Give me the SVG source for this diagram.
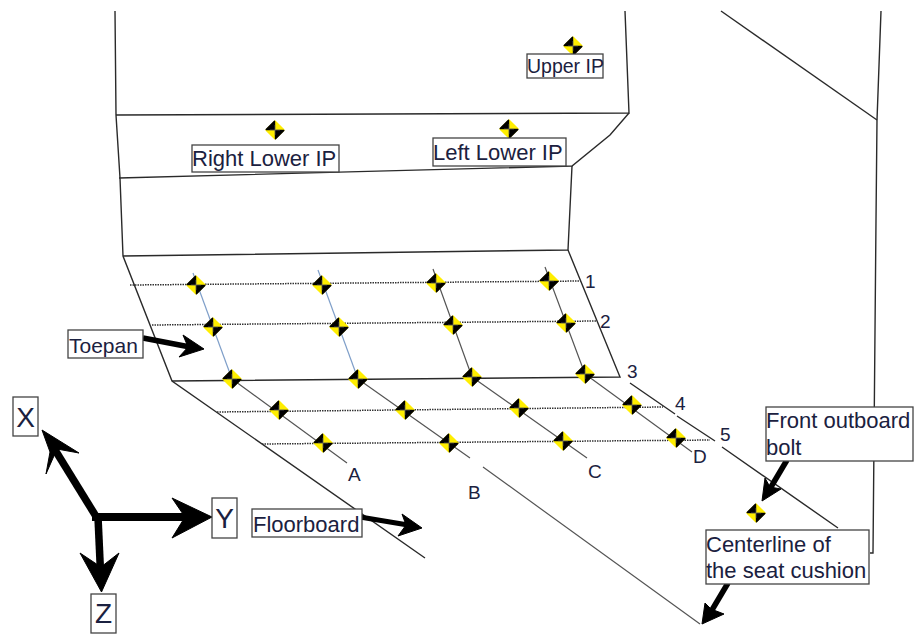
<svg xmlns="http://www.w3.org/2000/svg" width="915" height="635" viewBox="0 0 915 635">
<style>
.e{fill:none;stroke:#2a2a2a;stroke-width:1.4}
.r{fill:none;stroke:#333;stroke-width:1.5;stroke-dasharray:1.5 1}
.b{fill:none;stroke:#7f9fc9;stroke-width:1.2}
.g{fill:none;stroke:#555;stroke-width:1.2}
.box{fill:#fff;stroke:#444;stroke-width:1.3}
text{font-family:"Liberation Sans",Arial,sans-serif;fill:#1b2140}
.l{font-size:22px}
.n{font-size:19px}
.a{font-size:28px;text-anchor:middle}
.ar{fill:#000;stroke:#000;stroke-width:1;stroke-linejoin:miter}
.sh{fill:none;stroke:#000}
</style>
<defs>
<g id="m">
<path d="M0,-8.600L8.600,0L0,8.600L-8.600,0Z" fill="#ffee00" stroke="#ffee00" stroke-width="2" stroke-linejoin="round"/>
<path d="M-0.500,-8.800L-0.500,-0.500L-8.800,-0.500ZM0.500,8.800L0.500,0.500L8.800,0.500Z" fill="#000" stroke="#000" stroke-width="1.4" stroke-linejoin="round"/>
<path d="M-5,0H5M0,-5V5" stroke="#8a8a8a" stroke-width="0.5"/>
</g>
</defs>
<g id="connectors">
<path class="e" d="M115,11L116,115L120,178L123,256L172,381L425,558"/>
<path class="e" d="M625,11L629,113L116,115"/>
<path class="e" d="M629,113L610,135L572,166L119,178"/>
<path class="e" d="M572,166L568,250L123,256"/>
<path class="e" d="M568,250L620,377L172,381"/>
<path class="e" d="M630,383L675,414M677,416L715,441M722,447L838,528"/>
<path class="e" d="M721,11L877,120"/>
<path class="e" d="M881,11L877,120L876,220L873,553L870,553"/>
<path class="r" d="M130,285L581,281"/>
<path class="r" d="M152,325L597,321"/>
<path class="r" d="M217,412L663,407"/>
<path class="r" d="M262,444L710,440"/>
<path class="b" d="M193,273L232,379"/>
<path class="b" d="M318,270L358,379"/>
<path class="g" d="M433,269L472,377M545,267L585,374"/>
<path class="g" d="M232,379L347,463M358,379L470,458M483,467L700,624M472,377L587,458M585,374L692,452"/>
<g id="toepan-arrow"><path class="sh" stroke-width="5.500" d="M143,338L190,347"/><path class="ar" d="M204,349L183,335L188,347L179,357Z"/></g>
<g id="floorboard-arrow"><path class="sh" stroke-width="5" d="M360,517L408,525"/><path class="ar" d="M422,528L402,514L406,525L398,536Z"/></g>
<g id="bolt-arrow"><path class="sh" stroke-width="5.500" d="M787,460L768,492"/><path class="ar" d="M762,501L765,478L770,487L781,489Z"/></g>
<g id="cushion-arrow"><path class="sh" stroke-width="5.500" d="M728,583L709,615"/><path class="ar" d="M702,624L705,603L711,609L724,614Z"/></g>
<g id="axis-x"><path class="sh" stroke-width="7.500" d="M97,518L52,445"/><path class="ar" d="M42,430L79,453L57,449L46,474L50,452Z"/></g>
<g id="axis-y"><path class="sh" stroke-width="8" d="M92,517H190"/><path class="ar" d="M212,517L172,498L185,517L172,538Z"/></g>
<g id="axis-z"><path class="sh" stroke-width="7.500" d="M98,517L100.500,572"/><path class="ar" d="M101.500,592L80,553L101,567L119,553Z"/></g>
</g>
<g id="markers">
<use href="#m" x="573" y="46"/><use href="#m" x="275" y="130"/><use href="#m" x="509" y="129"/>
<use href="#m" x="196" y="285"/><use href="#m" x="322" y="285"/><use href="#m" x="436" y="283"/><use href="#m" x="549" y="281"/>
<use href="#m" x="213" y="327"/><use href="#m" x="339" y="327"/><use href="#m" x="453" y="325"/><use href="#m" x="566" y="323"/>
<use href="#m" x="232" y="379"/><use href="#m" x="358" y="379"/><use href="#m" x="472" y="377"/><use href="#m" x="585" y="374"/>
<use href="#m" x="279" y="410"/><use href="#m" x="405" y="410"/><use href="#m" x="519" y="408"/><use href="#m" x="632" y="405"/>
<use href="#m" x="323" y="443"/><use href="#m" x="449" y="443"/><use href="#m" x="563" y="441"/><use href="#m" x="676" y="438"/>
<use href="#m" x="756" y="513"/>
</g>
<g id="upper-ip"><rect class="box" x="527" y="54" width="76" height="24"/><text x="527" y="73" style="font-size:19.500px">Upper IP</text></g>
<g id="right-lower-ip"><rect class="box" x="192" y="145" width="147" height="27"/><text class="l" x="192" y="166">Right Lower IP</text></g>
<g id="left-lower-ip"><rect class="box" x="433" y="138" width="133" height="28"/><text class="l" x="433" y="160">Left Lower IP</text></g>
<g id="toepan"><rect class="box" x="68" y="330" width="75" height="28"/><text x="69" y="353" style="font-size:21px">Toepan</text></g>
<g id="floorboard"><rect class="box" x="252" y="509" width="110" height="28"/><text class="l" x="253" y="532">Floorboard</text></g>
<g id="front-outboard-bolt"><rect class="box" x="766" y="407" width="147" height="54"/><text class="l" x="766" y="428">Front outboard</text><text class="l" x="766" y="455">bolt</text></g>
<g id="centerline"><rect class="box" x="706" y="530" width="163" height="54"/><text class="l" x="706" y="552">Centerline of</text><text class="l" x="706" y="578">the seat cushion</text></g>
<g id="x-label"><rect class="box" x="13" y="397" width="25" height="39"/><text class="a" x="25.500" y="427">X</text></g>
<g id="y-label"><rect class="box" x="212" y="498" width="25" height="40"/><text class="a" x="224.500" y="528">Y</text></g>
<g id="z-label"><rect class="box" x="91" y="594" width="25" height="39"/><text class="a" x="103.500" y="623">Z</text></g>
<g id="grid-labels">
<text class="n" x="585" y="288">1</text><text class="n" x="600" y="328">2</text><text class="n" x="627" y="378">3</text><text class="n" x="675" y="410">4</text><text class="n" x="720" y="441">5</text>
<text class="n" x="348" y="481">A</text><text class="n" x="468" y="499">B</text><text class="n" x="588" y="478">C</text><text class="n" x="693" y="463">D</text>
</g>
</svg>
